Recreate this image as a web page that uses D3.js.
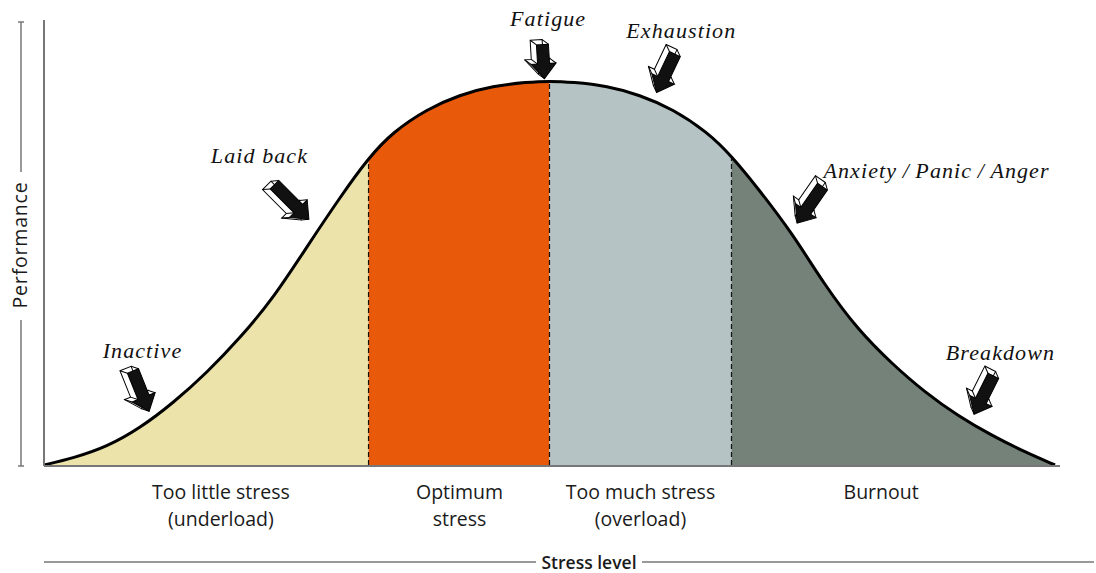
<!DOCTYPE html>
<html>
<head>
<meta charset="utf-8">
<script src="https://cdn.jsdelivr.net/npm/d3@7"></script>
<style>
  body { margin: 0; background: #fff; }
  .zone-label { font-family: "Open Sans", "Noto Sans", sans-serif; font-size: 19.5px; fill: #1a1a1a; }
  .axis-label { font-family: "Open Sans", "Noto Sans", sans-serif; font-size: 17.5px; font-weight: 600; fill: #1a1a1a; }
  .note { font-family: "Liberation Serif", serif; font-style: italic; font-size: 22px; letter-spacing: 1.1px; fill: #111; }
</style>
</head>
<body>
<script>

// stress level (0-100) and performance (0-100)
var stress = [0, 2.9, 6.2, 9.5, 12.8, 16.1, 19.4, 22.7, 26.0, 29.3, 32.1, 34.5, 37.9, 41.1, 44.4, 47.8, 50,
              52.3, 55.7, 58.9, 62.2, 65.6, 68.0, 70.6, 74.0, 77.2, 80.5, 83.9, 87.1, 90.4, 93.8, 97.0, 100];
var performance = [0, 1.8, 4.7, 9.6, 16.2, 24.0, 33.1, 43.5, 56.8, 69.8, 80.0, 86.7, 92.7, 96.4, 98.7, 99.7, 100,
                   99.7, 98.7, 96.4, 92.7, 86.7, 80.5, 72.1, 60.4, 46.9, 35.2, 26.3, 19.0, 12.8, 7.6, 3.4, 0];

// zones along the stress axis
var zoneBounds = [0, 32.1, 50, 68.0, 100];
var zoneLines1 = ["Too little stress", "Optimum", "Too much stress", "Burnout"];
var zoneLines2 = ["(underload)", "stress", "(overload)", ""];
var zoneColors = ["#ebe3aa", "#e8590a", "#b5c3c4", "#748279"];
var zoneLabelAt = [17.5, 41.1, 59.0, 82.8];

// annotations: label start, arrow tail and arrow tip in data units
var notes = ["Inactive", "Laid back", "Fatigue", "Exhaustion", "Anxiety\u2009/\u2009Panic\u2009/\u2009Anger", "Breakdown"];
var noteX = [5.8, 16.5, 46.1, 57.6, 77.1, 89.2];
var noteY = [27.9, 78.6, 114.3, 111.2, 74.7, 27.3];
var tailX = [8.8, 22.8, 49.3, 62.4, 77.0, 93.9];
var tailY = [24.5, 73.0, 109.5, 107.0, 72.5, 23.2];
var tipX = [10.4, 26.2, 49.5, 60.6, 74.5, 92.0];
var tipY = [14.0, 64.0, 100.6, 97.0, 63.0, 13.2];

var W = 1096, H = 573;
var x0 = 44, x1 = 1055, yBase = 465, yTop = 81;

var svg = d3.select("body").append("svg")
    .attr("width", W)
    .attr("height", H);

var x = d3.scaleLinear().domain([0, 100]).range([x0, x1]);
var y = d3.scaleLinear().domain([0, 100]).range([yBase, yTop]);

var pts = stress.map(function(s, i) { return [s, performance[i]]; });

var area = d3.area()
    .x(function(d) { return x(d[0]); })
    .y0(y(0))
    .y1(function(d) { return y(d[1]); })
    .curve(d3.curveBasis);

var line = d3.line()
    .x(function(d) { return x(d[0]); })
    .y(function(d) { return y(d[1]); })
    .curve(d3.curveBasis);

// clip one area per zone
var defs = svg.append("defs");
zoneColors.forEach(function(c, i) {
  defs.append("clipPath").attr("id", "zone" + i)
    .append("rect")
    .attr("x", x(zoneBounds[i]))
    .attr("y", 0)
    .attr("width", x(zoneBounds[i + 1]) - x(zoneBounds[i]))
    .attr("height", H);
  svg.append("path")
    .datum(pts)
    .attr("d", area)
    .attr("fill", c)
    .attr("clip-path", "url(#zone" + i + ")");
});

// dashed dividers
var interp = d3.scaleLinear().domain(stress).range(performance);
zoneBounds.slice(1, 4).forEach(function(b) {
  svg.append("line")
    .attr("x1", x(b)).attr("x2", x(b))
    .attr("y1", y(0)).attr("y2", y(interp(b)) + 1)
    .attr("stroke", "#111")
    .attr("stroke-width", 1.2)
    .attr("stroke-dasharray", "5,3");
});

// curve
svg.append("path")
    .datum(pts)
    .attr("d", line)
    .attr("fill", "none")
    .attr("stroke", "#000")
    .attr("stroke-width", 3);

// axes
svg.append("line")
    .attr("x1", x0).attr("x2", x0)
    .attr("y1", 20).attr("y2", yBase + 1)
    .attr("stroke", "#777").attr("stroke-width", 2);
svg.append("line")
    .attr("x1", x0).attr("x2", 1060)
    .attr("y1", yBase + 1).attr("y2", yBase + 1)
    .attr("stroke", "#777").attr("stroke-width", 2);

// performance label with rules
svg.append("text")
    .attr("class", "axis-label")
    .attr("transform", "translate(27,245) rotate(-90)")
    .attr("text-anchor", "middle")
    .style("font-weight", 500)
    .style("font-size", "19.5px")
    .style("letter-spacing", "0.8px")
    .text("Performance");
[[22, 172], [320, 466]].forEach(function(seg) {
  svg.append("line")
    .attr("x1", 21).attr("x2", 21).attr("y1", seg[0]).attr("y2", seg[1])
    .attr("stroke", "#777").attr("stroke-width", 1.5);
});
[22, 466].forEach(function(v) {
  svg.append("line")
    .attr("x1", 18).attr("x2", 24).attr("y1", v).attr("y2", v)
    .attr("stroke", "#777").attr("stroke-width", 1.5);
});

// stress level label with rules
svg.append("text")
    .attr("class", "axis-label")
    .attr("x", 589).attr("y", 569)
    .attr("text-anchor", "middle")
    .text("Stress level");
[[44, 536], [642, 1094]].forEach(function(seg) {
  svg.append("line")
    .attr("x1", seg[0]).attr("x2", seg[1]).attr("y1", 562).attr("y2", 562)
    .attr("stroke", "#777").attr("stroke-width", 1.5);
});

// zone labels
zoneLines1.forEach(function(t, i) {
  var g = svg.append("text")
      .attr("class", "zone-label")
      .attr("text-anchor", "middle");
  g.append("tspan").attr("x", x(zoneLabelAt[i])).attr("y", 499).text(t);
  g.append("tspan").attr("x", x(zoneLabelAt[i])).attr("y", 526).text(zoneLines2[i]);
});

// annotation labels
notes.forEach(function(t, i) {
  svg.append("text")
    .attr("class", "note")
    .attr("x", x(noteX[i]))
    .attr("y", y(noteY[i]))
    .text(t);
});

// 3d block arrows
function arrowPts(L) {
  return [[-6, 0], [6, 0], [6, L - 15], [12.5, L - 15], [0, L], [-12.5, L - 15], [-6, L - 15]];
}
notes.forEach(function(t, i) {
  var ax = x(tailX[i]), ay = y(tailY[i]);
  var bx = x(tipX[i]), by = y(tipY[i]);
  var L = Math.hypot(bx - ax, by - ay);
  var ang = Math.atan2(by - ay, bx - ax) * 180 / Math.PI - 90;
  var g = svg.append("g")
      .attr("transform", "translate(" + ax + "," + ay + ") rotate(" + ang + ")");
  var p = arrowPts(L);
  var dx = -6, dy = -5;
  // side face
  g.append("polygon")
    .attr("points", p.map(function(q) { return [q[0] + dx, q[1] + dy].join(","); }).join(" "))
    .attr("fill", "#fff").attr("stroke", "#000").attr("stroke-width", 1);
  p.forEach(function(q) {
    g.append("line")
      .attr("x1", q[0]).attr("y1", q[1]).attr("x2", q[0] + dx).attr("y2", q[1] + dy)
      .attr("stroke", "#000").attr("stroke-width", 1);
  });
  // front face
  g.append("polygon")
    .attr("points", p.map(function(q) { return q.join(","); }).join(" "))
    .attr("fill", "#111").attr("stroke", "#000").attr("stroke-width", 1);
});

</script>
</body>
</html>
